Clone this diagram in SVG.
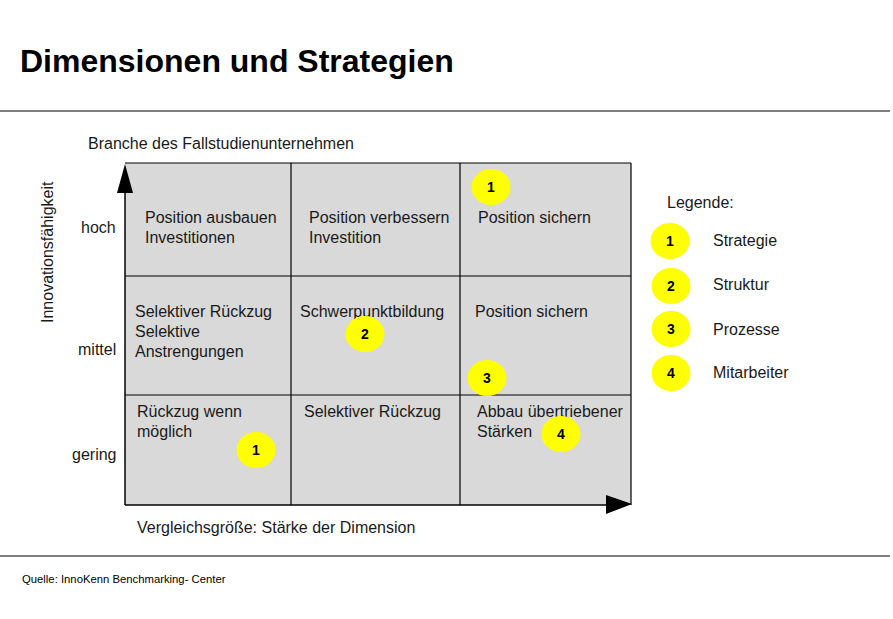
<svg xmlns="http://www.w3.org/2000/svg" width="893" height="619" viewBox="0 0 893 619">
<style>
text{font-family:"Liberation Sans",Arial,sans-serif;fill:#000}
.t{font-size:16px;fill:#1a1a1a}
.n{font-size:14px;font-weight:bold;text-anchor:middle}
.dot{fill:#ffff00}
.grid{stroke:#000;stroke-width:1.2;fill:none}
</style>
<rect width="893" height="619" fill="#fff"/>
<text x="20" y="72" style="font-size:32px;font-weight:bold">Dimensionen und Strategien</text>
<line x1="0" y1="111" x2="890" y2="111" stroke="#000" stroke-width="1.2"/>
<line x1="0" y1="556" x2="890" y2="556" stroke="#000" stroke-width="1.2"/>
<text x="22" y="583" style="font-size:11.3px">Quelle: InnoKenn Benchmarking- Center</text>
<text x="88" y="149" class="t">Branche des Fallstudienunternehmen</text>
<text x="137" y="533" class="t">Vergleichsgröße: Stärke der Dimension</text>
<text transform="translate(53,323) rotate(-90)" class="t">Innovationsfähigkeit</text>
<text x="81" y="233" class="t">hoch</text>
<text x="78" y="355" class="t">mittel</text>
<text x="72" y="460" class="t">gering</text>
<g id="matrix">
<rect x="125" y="163" width="506" height="342" fill="#d9d9d9"/>
<line class="grid" x1="631" y1="163" x2="631" y2="505"/>
<line class="grid" x1="125" y1="163" x2="631" y2="163"/>
<line class="grid" x1="291" y1="163" x2="291" y2="505" stroke="#333"/>
<line class="grid" x1="460" y1="163" x2="460" y2="505"/>
<line class="grid" x1="125" y1="276" x2="631" y2="276"/>
<line class="grid" x1="125" y1="395" x2="631" y2="395"/>
</g>
<g id="axes">
<line x1="125" y1="190" x2="125" y2="505" stroke="#000" stroke-width="1.5"/>
<polygon points="125,164 117,193 133,193" fill="#000"/>
<line x1="125" y1="505" x2="608" y2="505" stroke="#000" stroke-width="1.5"/>
<polygon points="632,504 606,495 606,514" fill="#000"/>
</g>
<g id="cells">
<text x="145" y="223" class="t">Position ausbauen</text>
<text x="145" y="243" class="t">Investitionen</text>
<text x="309" y="223" class="t">Position verbessern</text>
<text x="309" y="243" class="t">Investition</text>
<text x="478" y="223" class="t">Position sichern</text>
<text x="135" y="317" class="t">Selektiver Rückzug</text>
<text x="135" y="337" class="t">Selektive</text>
<text x="135" y="357" class="t">Anstrengungen</text>
<text x="300" y="317" class="t">Schwerpunktbildung</text>
<text x="475" y="317" class="t">Position sichern</text>
<text x="137" y="417" class="t">Rückzug wenn</text>
<text x="137" y="437" class="t">möglich</text>
<text x="304" y="417" class="t">Selektiver Rückzug</text>
<text x="477" y="417" class="t">Abbau übertriebener</text>
<text x="477" y="437" class="t">Stärken</text>
</g>
<g id="markers">
<ellipse class="dot" cx="491" cy="187" rx="19.5" ry="18"/><text x="491" y="192" class="n">1</text>
<ellipse class="dot" cx="365" cy="334" rx="19.5" ry="18"/><text x="365" y="339" class="n">2</text>
<ellipse class="dot" cx="487" cy="378" rx="19.5" ry="18"/><text x="487" y="383" class="n">3</text>
<ellipse class="dot" cx="561" cy="434" rx="19.5" ry="18"/><text x="561" y="439" class="n">4</text>
<ellipse class="dot" cx="256" cy="450" rx="19.5" ry="18"/><text x="256" y="455" class="n">1</text>
</g>
<g id="legend">
<text x="667" y="208" class="t">Legende:</text>
<ellipse class="dot" cx="670" cy="241" rx="19.5" ry="18"/><text x="670" y="246" class="n">1</text>
<text x="713" y="246" class="t">Strategie</text>
<ellipse class="dot" cx="671" cy="286" rx="19.5" ry="18"/><text x="671" y="291" class="n">2</text>
<text x="713" y="290" class="t">Struktur</text>
<ellipse class="dot" cx="671" cy="329" rx="19.5" ry="18"/><text x="671" y="334" class="n">3</text>
<text x="713" y="335" class="t">Prozesse</text>
<ellipse class="dot" cx="671" cy="373" rx="19.5" ry="18"/><text x="671" y="378" class="n">4</text>
<text x="713" y="378" class="t">Mitarbeiter</text>
</g>
</svg>
